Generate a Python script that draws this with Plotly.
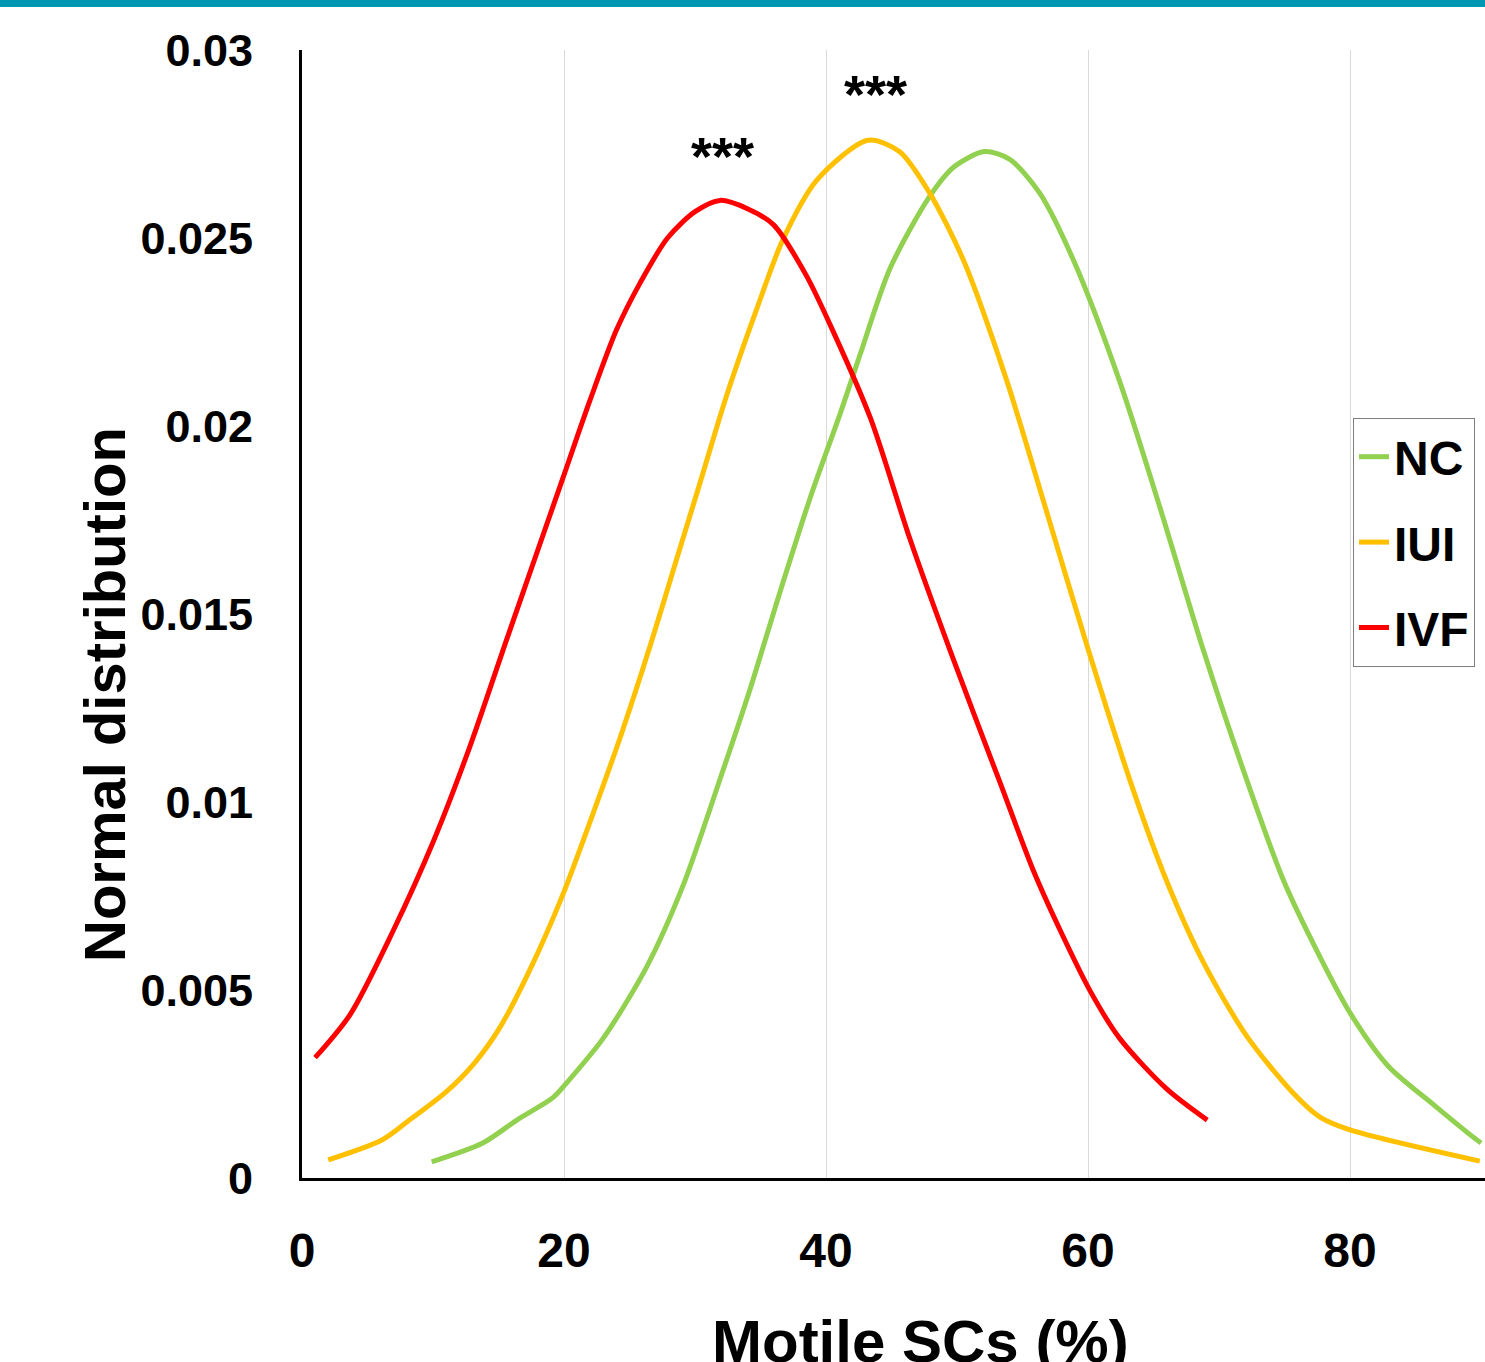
import plotly.graph_objects as go

# ---- data ----
ivf_x = [1.0, 3.66, 6.95, 10.0, 12.8, 15.6, 18.4, 19.9, 22.0, 24.0, 25.8, 27.9, 30.0, 31.9, 34.0, 36.0, 38.5, 40.5, 43.4, 46.4, 49.5, 53.3, 55.8, 57.9, 60.2, 62.4, 66.0, 69.1]
ivf_y = [0.0032, 0.00434, 0.00657, 0.00893, 0.01146, 0.0143, 0.0171, 0.0186, 0.0207, 0.02255, 0.0238, 0.0250, 0.0257, 0.0260, 0.02578, 0.02535, 0.0240, 0.02255, 0.0202, 0.0170, 0.0140, 0.0105, 0.0082, 0.00657, 0.00495, 0.00372, 0.00237, 0.00154]

iui_x = [2, 6.1, 8.2, 11.0, 13.1, 15.1, 17.6, 19.9, 22.2, 24.3, 26.6, 28.6, 30.4, 32.4, 34.7, 36.7, 39.3, 43.2, 45.6, 47.9, 50.5, 53.8, 56.6, 59.9, 63.4, 66.0, 68.8, 72.1, 75.6, 77.7, 80, 89.9]
iui_y = [0.00048, 0.00101, 0.00154, 0.00229, 0.00303, 0.0040, 0.00569, 0.00753, 0.00968, 0.01173, 0.01418, 0.01646, 0.01851, 0.0208, 0.0231, 0.02495, 0.02654, 0.0276, 0.0273, 0.0262, 0.0244, 0.0212, 0.0180, 0.01418, 0.01037, 0.0079, 0.00574, 0.00378, 0.00228, 0.00162, 0.00128, 0.00045]

nc_x = [9.9, 13.8, 16.4, 19.2, 20.2, 23.0, 26.3, 29.1, 31.9, 34.2, 36.5, 38.8, 41.1, 42.6, 44.9, 47.9, 49.8, 52.1, 54, 56.3, 58.9, 62.4, 65.5, 68.8, 71.8, 74.9, 77.7, 80, 82.9, 86.3, 89.2, 90]
nc_y = [0.00043, 0.00093, 0.00154, 0.00215, 0.00253, 0.00372, 0.00561, 0.00779, 0.0106, 0.0130, 0.0156, 0.0181, 0.02035, 0.0219, 0.0242, 0.0261, 0.0269, 0.0273, 0.0271, 0.0262, 0.0244, 0.0212, 0.01782, 0.01404, 0.0109, 0.00793, 0.00588, 0.00439, 0.00298, 0.00197, 0.00114, 0.00093]

x_ticks = [0, 20, 40, 60, 80]
x_tick_text = ["0", "20", "40", "60", "80"]
y_ticks = [0, 0.005, 0.01, 0.015, 0.02, 0.025, 0.03]
y_tick_text = ["0", "0.005", "0.01", "0.015", "0.02", "0.025", "0.03"]

stars_x = [32.1, 43.8]
stars_y = [0.02717, 0.02884]

W, H = 1485, 1362
L, R, T, B = 302, 0, 50, 184
FONT = "Liberation Sans, Arial, sans-serif"
PW, PH = W - L - R, H - T - B

fig = go.Figure()
series = [("NC", nc_x, nc_y, "#92d050"), ("IUI", iui_x, iui_y, "#ffc000"), ("IVF", ivf_x, ivf_y, "#ff0000")]
for name, xs, ys, col in series:
    fig.add_trace(go.Scatter(x=xs, y=ys, mode="lines", name="<b>" + name + "</b>", legendgroup=name,
                             line=dict(color=col, width=5, shape="spline", smoothing=0.8)))

for sx, sy in zip(stars_x, stars_y):
    fig.add_annotation(x=sx, y=sy, text="<b>***</b>", showarrow=False, yanchor="middle",
                       font=dict(family=FONT, size=54, color="black"))

# axis titles as annotations
fig.add_annotation(xref="paper", yref="paper", x=(920 - L) / PW, y=-(1306 - (H - B)) / PH,
                   text="<b>Motile SCs (%)</b>", showarrow=False, yanchor="top",
                   font=dict(family=FONT, size=60, color="black"))
fig.add_annotation(xref="paper", yref="paper", x=(104 - L) / PW, y=(H - B - 695) / PH,
                   text="<b>Normal distribution</b>", showarrow=False, textangle=-90,
                   xanchor="center", yanchor="middle",
                   font=dict(family=FONT, size=58, color="black"))

# teal band at top of page
fig.add_shape(type="rect", xref="paper", yref="paper", x0=-L / PW, x1=1.0,
              y0=1 + (T - 7) / PH, y1=1 + T / PH + 0.01, fillcolor="#0097b2", line_width=0, layer="above")

fig.update_layout(
    width=W, height=H,
    margin=dict(l=L, r=R, t=T, b=B),
    paper_bgcolor="white", plot_bgcolor="white",
    showlegend=True,
    legend=dict(x=(1353 - L) / PW, y=(H - B - 418) / PH, xanchor="left", yanchor="top",
                bordercolor="#7f7f7f", borderwidth=1, bgcolor="white",
                font=dict(family=FONT, size=48, color="black"),
                tracegroupgap=20, itemwidth=30),
    xaxis=dict(range=[0, 90.3], tickvals=x_ticks, ticktext=["<b>" + t + "</b>" for t in x_tick_text],
               ticks="", showgrid=True, gridcolor="#d9d9d9", gridwidth=1,
               showline=True, linecolor="black", linewidth=3, zeroline=False,
               tickfont=dict(family=FONT, size=48, color="black"), ticklabelstandoff=28),
    yaxis=dict(range=[0, 0.03], tickvals=y_ticks, ticktext=["<b>" + t + "</b>" for t in y_tick_text],
               ticks="", showgrid=False,
               showline=True, linecolor="black", linewidth=3, zeroline=False,
               tickfont=dict(family=FONT, size=45, color="black"), ticklabelstandoff=37),
)

fig.write_html("out.html", config={"displayModeBar": False},
               post_script="document.body.style.margin='0';")
